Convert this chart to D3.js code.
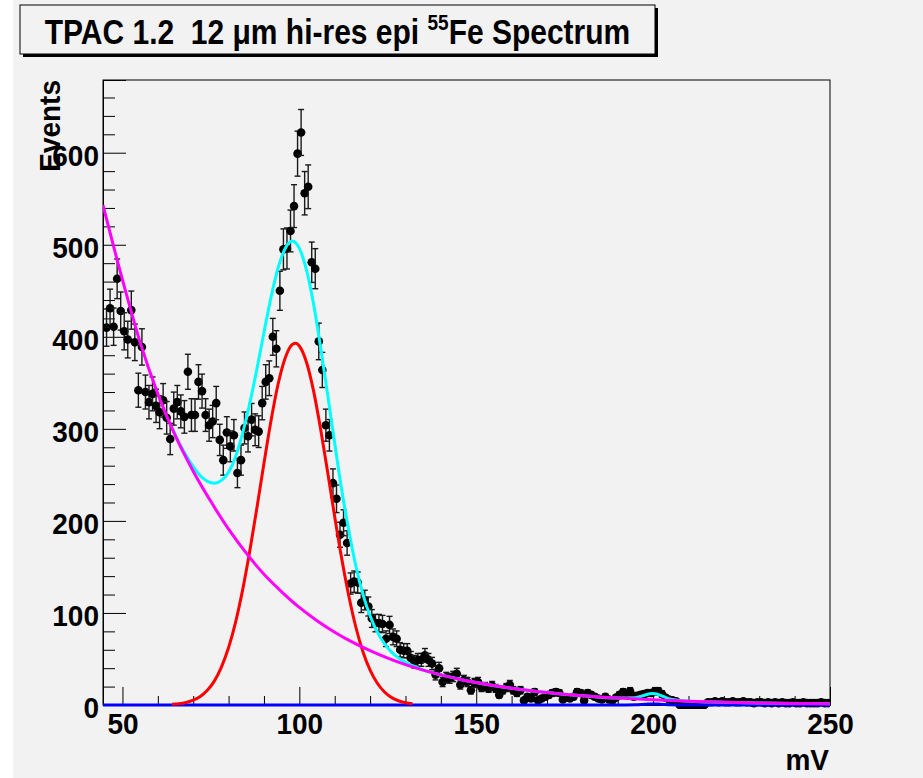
<!DOCTYPE html>
<html><head><meta charset="utf-8">
<script src="https://cdn.jsdelivr.net/npm/d3@7"></script>
<style>
html,body{margin:0;padding:0;background:#ffffff;}
svg{display:block;}
text{font-family:"Liberation Sans",Arial,Helvetica,sans-serif;font-weight:bold;fill:#000;white-space:pre;}
</style></head><body>
<svg id="chart" width="923" height="778"></svg>
<script>
// ---------------- data ----------------
const titleMain = "TPAC 1.2  12 \u03bcm hi-res epi ";
const titleSup = "55";
const titleEnd = "Fe Spectrum";
const xTitle = "mV";
const yTitle = "Events";

const firstBinCenter = 45.5;   // mV, bins are 1 mV wide
const binWidth = 1;
const counts = [
  410, 431, 411, 463, 428, 406, 397, 429, 394, 342,
  389, 340, 329, 338, 325, 318, 331, 312, 289, 322,
  329, 319, 313, 362, 315, 315, 351, 341, 315, 304,
  308, 328, 288, 266, 296, 281, 293, 252, 266, 301,
  292, 310, 299, 297, 328, 351, 355, 400, 387, 450,
  495, 496, 515, 542, 599, 622, 556, 563, 481, 474,
  395, 364, 304, 293, 241, 224, 185, 198, 176, 132,
  134, 133, 111, 114, 107, 94, 89, 89, 88, 72,
  87, 74, 72, 60, 59, 59, 51, 47, 49, 49,
  54, 49, 45, 33, 40, 25, 30, 29, 31, 34,
  22, 27, 25, 16, 24, 25, 19, 20, 18, 21,
  18, 11, 16, 19, 22, 16, 13, 16, 5, 9,
  7, 14, 5, 7, 9, 11, 13, 14, 13, 6,
  8, 7, 9, 14, 13, 5, 13, 11, 9, 7,
  6, 9, 6, 5, 8, 11, 14, 13, 15, 9,
  10, 11, 12, 13, 13, 15, 15, 12, 8, 6,
  5, 4, 0, 0, 0, 0, 0, 0, 0, 0,
  3, 3, 4, 3, 4, 3, 3, 4, 3, 3,
  4, 3, 3, 2, 3, 3, 2, 3, 2, 3,
  2, 3, 2, 2, 3, 2, 2, 3, 2, 2,
  2, 2, 3, 2, 2
];

// background (magenta) curve
const bgX = [44.5, 50, 55, 60, 65, 70, 75, 80, 85, 90, 95, 100, 105, 110, 115, 120, 125, 130, 135, 140, 145, 150, 160, 170, 180, 190, 200, 210, 220, 230, 240, 250];
const bgY = [543, 462, 394, 338, 292, 254, 221, 191, 165, 142, 123, 106, 91.6, 79.1, 68.3, 59, 50.9, 43.9, 37.9, 32.7, 28.3, 24.4, 18.2, 13.6, 10.1, 7.5, 5.6, 4.2, 3.1, 2.3, 1.7, 1.3];

// photo-peak (red) curve
const peakX = [64, 66, 68, 70, 72, 74, 76, 78, 80, 82, 84, 86, 88, 90, 92, 94, 96, 98, 99, 100, 102, 104, 106, 108, 110, 112, 114, 116, 118, 120, 122, 124, 126, 128, 130, 132];
const peakY = [0.7, 1.4, 2.8, 5.2, 9.3, 16, 26.2, 41.4, 62.4, 90.4, 125.6, 167.5, 214, 262.6, 309, 348.7, 377, 391.7, 393, 390, 372.6, 341.5, 300, 253, 204.5, 158.6, 118.2, 84.2, 57.6, 37.9, 23.9, 14.4, 8.3, 4.6, 2.5, 1.3];

// total fit (cyan) curve
const totalX = [64, 66, 68, 70, 72, 74, 76, 78, 80, 82, 84, 86, 88, 90, 92, 94, 96, 98, 100, 102, 104, 106, 108, 110, 112, 114, 116, 118, 120, 122, 124, 126, 128, 130, 132, 135, 140, 145, 150, 160, 170, 180, 190, 195, 197, 199, 200, 201, 203, 205, 210, 220, 230, 240, 250];
const totalY = [301, 285, 271, 259, 249, 243, 241, 244, 253, 270, 296, 328, 365, 405, 443, 475, 496, 504, 496, 473, 436, 389, 337, 284, 233, 189, 150.5, 120, 97, 79.5, 67, 57.7, 51.2, 46.4, 42.7, 38.1, 32.7, 28.3, 24.4, 18.2, 13.6, 10.1, 7.5, 7.9, 9.9, 12.3, 12.6, 12.0, 9.0, 6.2, 4.2, 3.1, 2.3, 1.7, 1.3];

// baseline (blue) curve
const baseX = [44.5, 190, 195, 198, 200, 202, 205, 210, 250];
const baseY = [0, 0, 0.2, 0.9, 1.2, 0.9, 0.2, 0, 0];

const xTickLabels = [50, 100, 150, 200, 250];
const yTickLabels = [0, 100, 200, 300, 400, 500, 600];

// ---------------- drawing ----------------
const W = 923, H = 778;
const svg = d3.select("#chart");
const frame = {left: 103, right: 830, top: 80, bottom: 705};
const FONT = '"Liberation Sans",Arial,Helvetica,sans-serif';

svg.append("rect").attr("x", 0).attr("y", 0).attr("width", W).attr("height", H).attr("fill", "#ffffff");
svg.append("rect").attr("x", 13).attr("y", 0).attr("width", W - 13).attr("height", H).attr("fill", "#f2f2f2");

const x = d3.scaleLinear().domain([44.5, 250]).range([frame.left, frame.right]);
const y = d3.scaleLinear().domain([0, 679]).range([frame.bottom, frame.top]);

// frame
svg.append("rect").attr("x", frame.left).attr("y", frame.top)
  .attr("width", frame.right - frame.left).attr("height", frame.bottom - frame.top)
  .attr("fill", "none").attr("stroke", "#000").attr("stroke-width", 1);

const defs = svg.append("defs");
defs.append("clipPath").attr("id", "plotclip").append("rect")
  .attr("x", frame.left).attr("y", frame.top - 2)
  .attr("width", frame.right - frame.left).attr("height", frame.bottom - frame.top + 6);

// axes: minor ticks
const yMinor = d3.range(20, 680, 20).filter(v => v % 100 !== 0);
const xMinor = d3.range(50, 250, 10).filter(v => v % 50 !== 0);

svg.append("g").attr("transform", `translate(${frame.left},0)`)
  .call(d3.axisLeft(y).tickValues(yMinor).tickSize(-12).tickFormat(""))
  .call(g => g.select(".domain").remove())
  .call(g => g.selectAll("line").attr("stroke", "#000"));

svg.append("g").attr("transform", `translate(0,${frame.bottom})`)
  .call(d3.axisBottom(x).tickValues(xMinor).tickSize(-9).tickFormat(""))
  .call(g => g.select(".domain").remove())
  .call(g => g.selectAll("line").attr("stroke", "#000"));

// major ticks with labels
const yAxis = svg.append("g").attr("transform", `translate(${frame.left},0)`)
  .call(d3.axisLeft(y).tickValues(yTickLabels).tickSize(-23).tickPadding(4).tickFormat(d3.format("d")))
  .call(g => g.select(".domain").attr("stroke", "#000"))
  .call(g => g.selectAll("line").attr("stroke", "#000"));
yAxis.selectAll("text").attr("font-size", 28).attr("dy", "0.42em").attr("transform", "scale(1,1.08)")
  .style("font-family", FONT).style("font-weight", "bold").attr("fill", "#000");

const xAxis = svg.append("g").attr("transform", `translate(0,${frame.bottom})`)
  .call(d3.axisBottom(x).tickValues(xTickLabels).tickSize(-18).tickPadding(7).tickFormat(d3.format("d")))
  .call(g => g.select(".domain").attr("stroke", "#000"))
  .call(g => g.selectAll("line").attr("stroke", "#000"));
xAxis.selectAll("text").attr("font-size", 28).attr("transform", "scale(1,1.08)")
  .style("font-family", FONT).style("font-weight", "bold").attr("fill", "#000");

// data points with error bars
const pts = counts.map((c, i) => ({mv: firstBinCenter + i * binWidth, n: c}));
const ptsG = svg.append("g").attr("clip-path", "url(#plotclip)");
const capHalf = 3;
const eb = ptsG.selectAll("g.pt").data(pts).join("g").attr("class", "pt");
const errColor = "#1a1a1a";
eb.append("line")
  .attr("x1", d => x(d.mv)).attr("x2", d => x(d.mv))
  .attr("y1", d => y(d.n - Math.sqrt(d.n))).attr("y2", d => y(d.n + Math.sqrt(d.n)))
  .attr("stroke", errColor).attr("stroke-width", 1.4);
eb.append("line")
  .attr("x1", d => x(d.mv) - capHalf).attr("x2", d => x(d.mv) + capHalf)
  .attr("y1", d => y(d.n + Math.sqrt(d.n))).attr("y2", d => y(d.n + Math.sqrt(d.n)))
  .attr("stroke", errColor).attr("stroke-width", 1.4);
eb.append("line")
  .attr("x1", d => x(d.mv) - capHalf).attr("x2", d => x(d.mv) + capHalf)
  .attr("y1", d => y(d.n - Math.sqrt(d.n))).attr("y2", d => y(d.n - Math.sqrt(d.n)))
  .attr("stroke", errColor).attr("stroke-width", 1.4);
eb.append("circle").attr("cx", d => x(d.mv)).attr("cy", d => y(d.n)).attr("r", 4.3).attr("fill", "#000");

// curves
const curvesG = svg.append("g").attr("clip-path", "url(#plotclip)");
function drawCurve(xs, ys, color) {
  const data = xs.map((v, i) => [v, ys[i]]);
  curvesG.append("path").datum(data)
    .attr("d", d3.line().x(d => x(d[0])).y(d => y(d[1])).curve(d3.curveMonotoneX))
    .attr("fill", "none").attr("stroke", color).attr("stroke-width", 3)
    .attr("stroke-linejoin", "round");
}
drawCurve(baseX, baseY, "#0000ff");
drawCurve(peakX, peakY, "#ff0000");
drawCurve(totalX, totalY, "#00ffff");
drawCurve(bgX, bgY, "#ff00ff");

// axis titles
svg.append("text").attr("transform", "translate(60,80) rotate(-90) scale(1,1.08)")
  .attr("text-anchor", "end").attr("font-size", 28).text(yTitle);
svg.append("text").attr("transform", "translate(829,770) scale(1,1.08)")
  .attr("text-anchor", "end").attr("font-size", 28).text(xTitle);

// title box
const tb = {x: 20, y: 5, w: 635, h: 49};
svg.append("rect").attr("x", tb.x + 3).attr("y", tb.y + 3).attr("width", tb.w).attr("height", tb.h).attr("fill", "#000");
svg.append("rect").attr("x", tb.x).attr("y", tb.y).attr("width", tb.w).attr("height", tb.h)
  .attr("fill", "#f2f2f2").attr("stroke", "#000").attr("stroke-width", 1);
const tt = svg.append("text").attr("transform", `translate(${tb.x + tb.w / 2},44) scale(1,1.15)`)
  .attr("text-anchor", "middle").attr("font-size", 30);
tt.append("tspan").text(titleMain);
tt.append("tspan").attr("font-size", 19).attr("dy", -12).text(titleSup);
tt.append("tspan").attr("dy", 12).text(titleEnd);
</script>
</body></html>
